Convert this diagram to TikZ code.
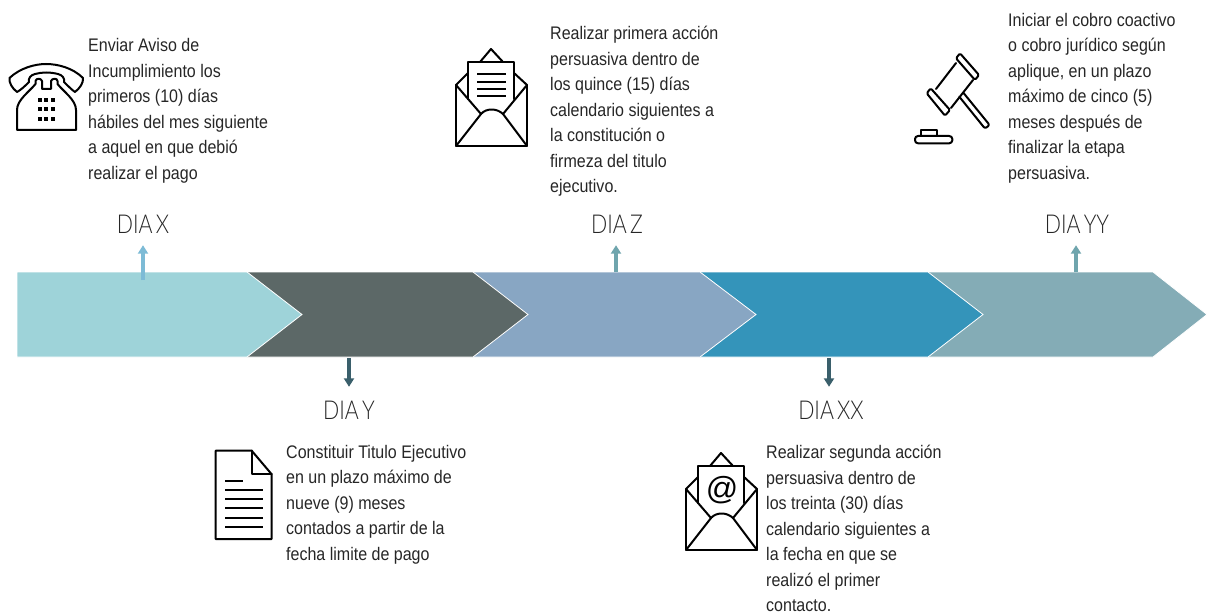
\documentclass[tikz,border=0pt]{standalone}
\usepackage{fontspec}
\setmainfont{Liberation Sans}
\newfontfamily\bodyfont[FakeStretch=0.88]{Liberation Sans}
\newfontfamily\dayfont[FakeStretch=0.82,WordSpace=0.55]{Lato Light}
\usetikzlibrary{arrows.meta}
\definecolor{segA}{HTML}{9ED3D9}
\definecolor{segB}{HTML}{5C6867}
\definecolor{segC}{HTML}{88A6C3}
\definecolor{segD}{HTML}{3494BA}
\definecolor{segE}{HTML}{84ACB6}
\definecolor{arrA}{HTML}{7DBBD6}
\definecolor{arrB}{HTML}{3A5F6B}
\definecolor{arrC}{HTML}{6FA5AD}
\definecolor{ink}{HTML}{262626}
\tikzset{
  x=1pt,y=-1pt,
  chev/.style={draw=white,line width=0.8pt,line join=miter},
  para/.style={anchor=north west,inner sep=0pt,align=left,text=ink,
    font=\bodyfont\fontsize{18.2}{25.5}\selectfont},
  daylab/.style={inner xsep=0pt,inner ysep=12pt,text height=20pt,text depth=0pt,text=ink,
    font=\dayfont\fontsize{26}{30}\selectfont},
  tick/.style={line width=3.2pt,-{Triangle[length=8.5pt,width=10pt]}},
  icon/.style={draw=black,line width=2pt,line join=round,line cap=round},
}
\begin{document}
\begin{tikzpicture}
\useasboundingbox (0,0) rectangle (1207,615);
% chevrons, last one at the back
\path[chev,fill=segE] (928,272) -- (1153,272) -- (1207,314.5) -- (1153,357) -- (928,357) -- cycle;
\path[chev,fill=segD] (700,272) -- (928,272) -- (983,314.5) -- (928,357) -- (700,357) -- cycle;
\path[chev,fill=segC] (473,272) -- (700,272) -- (756,314.5) -- (700,357) -- (473,357) -- cycle;
\path[chev,fill=segB] (247,272) -- (473,272) -- (528,314.5) -- (473,357) -- (247,357) -- cycle;
\path[chev,fill=segA] (17,272) -- (247,272) -- (302,314.5) -- (247,357) -- (17,357) -- cycle;
% day labels
\node[daylab] (dx) at (143,223) {DIA X};
\node[daylab] (dy) at (349,409) {DIA Y};
\node[daylab] (dz) at (617,223) {DIA Z};
\node[daylab] (dxx) at (831,409) {DIA XX};
\node[daylab] (dyy) at (1077,223) {DIA YY};
% connector starts
\coordinate (sa) at (143,280);
\coordinate (sb) at (349,358);
\coordinate (sc) at (616,272);
\coordinate (sd) at (829,358);
\coordinate (se) at (1076,272);
\draw[tick,arrA] (sa) -- (sa |- dx.south);
\draw[tick,arrB] (sb) -- (sb |- dy.north);
\draw[tick,arrC] (sc) -- (sc |- dz.south);
\draw[tick,arrB] (sd) -- (sd |- dxx.north);
\draw[tick,arrC] (se) -- (se |- dyy.south);
% texts
\node[para] (t1) at (88,38.5) {Enviar Aviso de\\Incumplimiento los\\primeros (10) días\\hábiles del mes siguiente\\a aquel en que debió\\realizar el pago};
\node[para] (t2) at (286,445) {Constituir Titulo Ejecutivo\\en un plazo máximo de\\nueve (9) meses\\contados a partir de la\\fecha limite de pago};
\node[para] (t3) at (550,26) {Realizar primera acción\\persuasiva dentro de\\los quince (15) días\\calendario siguientes a\\la constitución o\\firmeza del titulo\\ejecutivo.};
\node[para] (t4) at (766,445) {Realizar segunda acción\\persuasiva dentro de\\los treinta (30) días\\calendario siguientes a\\la fecha en que se\\realizó el primer\\contacto.};
\node[para] (t5) at (1008,13) {Iniciar el cobro coactivo\\o cobro jurídico según\\aplique, en un plazo\\máximo de cinco (5)\\meses después de\\finalizar la etapa\\persuasiva.};
% telephone
\draw[icon] (17,130) -- (76,130) -- (76,110) .. controls (76,100) and (64,92) .. (57.5,84) -- (57.5,81)
  .. controls (57.5,78) and (52,78) .. (51,81) -- (51,89) -- (42,89) -- (42,81)
  .. controls (41,78) and (36,78) .. (35.5,81) -- (35.5,84) .. controls (29,92) and (17,100) .. (17,110) -- cycle;
\draw[icon] (17,92) .. controls (12,88) and (9,83) .. (9.5,78) .. controls (20,68) and (35,64) .. (46,64)
  .. controls (58,64) and (73,68) .. (83,78) .. controls (83.5,83) and (80,88) .. (75,92)
  .. controls (72,90) and (67,85) .. (64,82) .. controls (65,78) and (62,75) .. (58,74)
  .. controls (50,72) and (42,72) .. (35,74) .. controls (31,75) and (28,78) .. (29,82)
  .. controls (26,85) and (21,90) .. (17,92) -- cycle;
\foreach \px in {39.5,46,52.5}\foreach \py in {100,109.5,119}
  \fill[black] (\px-2,\py-2) rectangle (\px+2,\py+2);
% envelope with lines
\begin{scope}
\draw[icon] (456,85) -- (456,146) -- (527,146) -- (527,85);
\draw[icon] (456,85) -- (468,73);
\draw[icon] (527,85) -- (514,73);
\draw[icon] (480,62) -- (491,49) -- (503,62);
\draw[icon] (468,99) -- (468,62) -- (514,62) -- (514,99);
\draw[icon] (456,85) -- (481,114) .. controls (486,108) and (497,108) .. (503,114) -- (527,85);
\draw[icon] (456,146) -- (481,114);
\draw[icon] (527,146) -- (503,114);
\foreach \ly in {74,82,89,96} \draw[icon,line cap=butt] (477,\ly) -- (506,\ly);
\end{scope}
% envelope with at sign
\begin{scope}[shift={(230pt,-404pt)}]
\draw[icon] (456,85) -- (456,146) -- (527,146) -- (527,85);
\draw[icon] (456,85) -- (468,73);
\draw[icon] (527,85) -- (514,73);
\draw[icon] (480,62) -- (491,49) -- (503,62);
\draw[icon] (468,99) -- (468,62) -- (514,62) -- (514,99);
\draw[icon] (456,85) -- (481,114) .. controls (486,108) and (497,108) .. (503,114) -- (527,85);
\draw[icon] (456,146) -- (481,114);
\draw[icon] (527,146) -- (503,114);
\end{scope}
\node[inner sep=0pt,font=\fontsize{32}{32}\selectfont] (at) at (722,490) {@};
% document
\draw[icon] (215.7,539) -- (215.7,450.7) -- (251.7,450.7) -- (271.7,474.3) -- (271.7,539) -- cycle;
\draw[icon] (251.7,450.7) -- (251.7,474.3) -- (271.7,474.3);
\draw[icon,line cap=butt] (225,480.7) -- (242.7,480.7);
\foreach \ly in {490,499,508,517.7,527} \draw[icon,line cap=butt] (225,\ly) -- (262.7,\ly);
% gavel
\draw[icon,rounded corners=1.5pt] (960,53.3) -- (979,75) -- (975,80) -- (956,58.3) -- cycle;
\draw[icon,rounded corners=1.5pt] (930.7,88.3) -- (950,110) -- (945,115.7) -- (926.7,93.3) -- cycle;
\draw[icon] (936,89) -- (956,63);
\draw[icon] (951,108) -- (973,80);
\draw[icon,rounded corners=2pt] (959.3,96.7) -- (985,128.6) -- (989.6,125) -- (963.3,92.7);
\draw[icon,rounded corners=3pt] (915,136) rectangle (952.3,143.3);
\draw[icon] (920.7,136) -- (920.7,130) -- (937.3,130) -- (937.3,136);
\end{tikzpicture}
\end{document}
